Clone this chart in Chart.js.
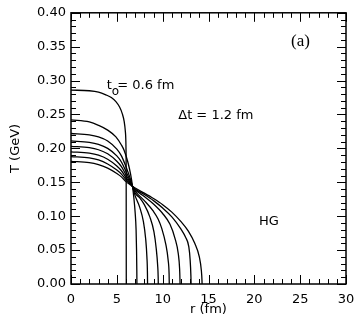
<!DOCTYPE html>
<html>
<head>
<meta charset="utf-8">
<script src="https://cdn.jsdelivr.net/npm/chart.js@4/dist/chart.umd.min.js"></script>
<style>
  html, body { margin: 0; padding: 0; background: #fff; }
  #c { display: block; }
</style>
</head>
<body>
<canvas id="c" width="364" height="327"></canvas>
<script>
// ---- data (r in fm, T in GeV) ----
const r1 = [0, 2, 3, 3.8, 4.4, 4.9, 5.3, 5.6, 5.8, 5.93, 6.0, 6.02, 6.03];
const T1 = [0.286, 0.285, 0.283, 0.279, 0.275, 0.269, 0.261, 0.251, 0.240, 0.225, 0.200, 0.150, 0];

const r2 = [0, 2, 3, 4, 4.9, 5.5, 5.8, 6.2, 6.5, 6.7, 6.85, 7.0, 7.1, 7.15, 7.18, 7.19];
const T2 = [0.242, 0.239, 0.234, 0.227, 0.217, 0.205, 0.197, 0.180, 0.162, 0.145, 0.128, 0.105, 0.080, 0.050, 0.020, 0];

const r3 = [0, 2, 3, 4, 5, 5.5, 6, 6.5, 7, 7.5, 7.9, 8.15, 8.28, 8.34, 8.35];
const T3 = [0.222, 0.220, 0.217, 0.211, 0.199, 0.189, 0.173, 0.154, 0.130, 0.113, 0.092, 0.066, 0.040, 0.015, 0];

const r4 = [0, 2, 3, 4, 5, 5.5, 6, 6.5, 7, 7.5, 8, 8.6, 9.05, 9.3, 9.45, 9.51, 9.52];
const T4 = [0.211, 0.209, 0.206, 0.200, 0.189, 0.180, 0.166, 0.151, 0.134, 0.127, 0.117, 0.099, 0.077, 0.052, 0.028, 0.010, 0];

const r5 = [0, 2, 3, 4, 5, 5.5, 6, 6.5, 7, 8, 9, 9.5, 9.9, 10.35, 10.6, 10.7, 10.72];
const T5 = [0.203, 0.201, 0.198, 0.192, 0.181, 0.173, 0.161, 0.149, 0.137, 0.123, 0.107, 0.096, 0.082, 0.058, 0.035, 0.015, 0];

const r6 = [0, 2, 3, 4, 5, 5.5, 6, 6.5, 7, 8, 9, 10, 10.8, 11.35, 11.7, 11.85, 11.9];
const T6 = [0.195, 0.193, 0.190, 0.184, 0.174, 0.167, 0.157, 0.148, 0.139, 0.129, 0.118, 0.104, 0.088, 0.067, 0.045, 0.022, 0];

const r7 = [0, 2, 3, 4, 5, 5.5, 6, 6.5, 7, 8, 9, 10, 11, 12, 12.5, 12.85, 13.0, 13.08, 13.1];
const T7 = [0.188, 0.186, 0.183, 0.177, 0.168, 0.162, 0.154, 0.147, 0.140, 0.132, 0.123, 0.112, 0.099, 0.081, 0.069, 0.055, 0.035, 0.012, 0];

const r8 = [0, 2, 3, 4, 5, 5.5, 6, 6.5, 7, 8, 9, 10, 11, 12, 12.8, 13.5, 14.0, 14.22, 14.29, 14.3];
const T8 = [0.181, 0.179, 0.176, 0.171, 0.163, 0.158, 0.151, 0.146, 0.1415, 0.134, 0.126, 0.117, 0.106, 0.092, 0.078, 0.060, 0.040, 0.020, 0.005, 0];

const curvesR = [r1, r2, r3, r4, r5, r6, r7, r8];
const curvesT = [T1, T2, T3, T4, T5, T6, T7, T8];

const xRange = [0, 30];
const yRange = [0, 0.40];
const xMajor = 5, xMinor = 1;
const yMajor = 0.05, yMinor = 0.01;

const xTitle = 'r (fm)';
const yTitle = 'T (GeV)';
// ---------------------------------------------------------

const datasets = curvesR.map((rs, i) => ({
  data: rs.map((r, j) => ({ x: r, y: curvesT[i][j] })),
  borderColor: '#000',
  borderWidth: 1.3,
  pointRadius: 0,
  showLine: true,
  fill: false,
  cubicInterpolationMode: 'monotone'
}));

const FONT = '"DejaVu Sans", "Liberation Sans", sans-serif';

const framePlugin = {
  id: 'frameTicks',
  afterDatasetsDraw(chart) {
    const { ctx, chartArea: a, scales: { x, y } } = chart;
    ctx.save();
    ctx.strokeStyle = '#000';
    ctx.lineWidth = 1;
    ctx.beginPath();
    const nx = Math.round((xRange[1] - xRange[0]) / xMinor);
    const perX = Math.round(xMajor / xMinor);
    for (let i = 0; i <= nx; i++) {
      const v = xRange[0] + i * xMinor;
      const px = Math.round(x.getPixelForValue(v)) + 0.5;
      const len = (i % perX === 0) ? 9 : 5;
      ctx.moveTo(px, a.bottom); ctx.lineTo(px, a.bottom - len);
      ctx.moveTo(px, a.top); ctx.lineTo(px, a.top + len);
    }
    const ny = Math.round((yRange[1] - yRange[0]) / yMinor);
    const perY = Math.round(yMajor / yMinor);
    for (let i = 0; i <= ny; i++) {
      const v = yRange[0] + i * yMinor;
      const py = Math.round(y.getPixelForValue(v)) + 0.5;
      const len = (i % perY === 0) ? 9 : 5;
      ctx.moveTo(a.left, py); ctx.lineTo(a.left + len, py);
      ctx.moveTo(a.right, py); ctx.lineTo(a.right - len, py);
    }
    ctx.stroke();
    ctx.lineWidth = 1.5;
    ctx.strokeRect(a.left, a.top, a.right - a.left, a.bottom - a.top);

    // annotations placed in data coordinates
    ctx.fillStyle = '#000';
    ctx.textBaseline = 'alphabetic';
    ctx.textAlign = 'left';
    ctx.font = '13px ' + FONT;
    ctx.fillText('t', x.getPixelForValue(3.9), y.getPixelForValue(0.288));
    ctx.font = '12px ' + FONT;
    ctx.fillText('o', x.getPixelForValue(4.45), y.getPixelForValue(0.279));
    ctx.font = '13px ' + FONT;
    ctx.fillText('= 0.6 fm', x.getPixelForValue(5.05), y.getPixelForValue(0.288));
    ctx.fillText('\u0394t = 1.2 fm', x.getPixelForValue(11.7), y.getPixelForValue(0.243));
    ctx.fillText('HG', x.getPixelForValue(20.5), y.getPixelForValue(0.087));
    ctx.font = '17px "Liberation Serif", "DejaVu Serif", serif';
    ctx.fillText('(a)', x.getPixelForValue(24.0), y.getPixelForValue(0.351));
    ctx.restore();
  }
};

new Chart(document.getElementById('c'), {
  type: 'scatter',
  data: { datasets },
  options: {
    responsive: false,
    animation: false,
    devicePixelRatio: 1,
    layout: { padding: { top: 12, right: 18, bottom: 0, left: 0 } },
    plugins: { legend: { display: false }, tooltip: { enabled: false } },
    scales: {
      x: {
        type: 'linear',
        min: xRange[0], max: xRange[1],
        afterFit: s => { s.height = 43; },
        grid: { display: false, drawTicks: false },
        border: { display: false },
        ticks: {
          stepSize: xMajor, padding: 8, color: '#000',
          font: { family: FONT, size: 13 },
          callback: v => String(v)
        },
        title: {
          display: true, text: xTitle, color: '#000',
          font: { family: FONT, size: 13 },
          padding: { top: 0, bottom: 10 }
        }
      },
      y: {
        type: 'linear',
        min: yRange[0], max: yRange[1],
        afterFit: s => { s.width = 71; },
        grid: { display: false, drawTicks: false },
        border: { display: false },
        ticks: {
          stepSize: yMajor, padding: 5, color: '#000',
          font: { family: FONT, size: 13 },
          callback: v => Number(v).toFixed(2)
        },
        title: {
          display: true, text: yTitle, color: '#000',
          font: { family: FONT, size: 13 },
          padding: { top: 8, bottom: 0 }
        }
      }
    }
  },
  plugins: [framePlugin]
});
</script>
</body>
</html>
